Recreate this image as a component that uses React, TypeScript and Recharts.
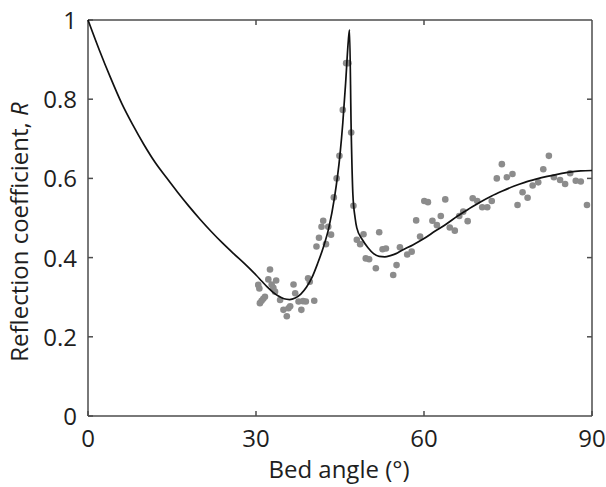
import { ComposedChart, Line, ReferenceLine, Scatter, XAxis, YAxis } from "recharts";

// ─── Model curve (bed angle in degrees, reflection coefficient) ─────────────
const curveAngle = [
  0, 2, 4, 6, 8, 10, 12, 14, 16, 18, 20, 22, 24, 26, 28, 30, 31, 32, 33, 34,
  35, 36, 37, 38, 39, 40, 41, 42, 43, 44, 45, 45.5, 46, 46.5, 46.7, 47, 47.3,
  47.7, 48, 49, 50, 51, 52, 53, 54, 55, 56, 58, 60, 62, 64, 66, 68, 70, 72,
  74, 76, 78, 80, 82, 84, 86, 88, 90,
];
const curveR = [
  1.0, 0.925, 0.855, 0.79, 0.735, 0.685, 0.64, 0.602, 0.565, 0.53, 0.497,
  0.466, 0.437, 0.41, 0.384, 0.356, 0.341, 0.326, 0.313, 0.303, 0.296, 0.294,
  0.298, 0.308, 0.325, 0.35, 0.385, 0.425, 0.475, 0.55, 0.66, 0.74, 0.84,
  0.95, 0.975, 0.72, 0.56, 0.5, 0.475, 0.445, 0.425, 0.41, 0.403, 0.402,
  0.405, 0.41, 0.418, 0.432, 0.448, 0.467, 0.485, 0.505, 0.523, 0.54, 0.555,
  0.568, 0.58, 0.59, 0.598, 0.605, 0.611, 0.616, 0.619, 0.62,
];

// ─── Measured points ────────────────────────────────────────────────────────
const obsAngle = [
  30.4, 30.6, 30.7, 31.0, 31.3, 31.6, 32.2, 32.5, 32.8, 33.1, 33.4, 33.6,
  34.3, 34.9, 35.5, 35.8, 36.1, 36.7, 37.0, 37.6, 38.1, 38.4, 38.9, 39.3,
  39.6, 40.4, 40.8, 41.25, 41.7, 42.0, 42.5, 42.9, 43.4, 43.9, 44.4, 44.9,
  45.5, 46.1, 46.5, 47.0, 47.4, 48.0, 48.6, 49.2, 49.6, 50.2, 51.4, 52.0,
  52.6, 53.2, 54.5, 55.1, 55.7, 57.0, 57.8, 58.6, 59.3, 60.05, 60.7, 61.5,
  62.3, 63.0, 63.8, 64.6, 65.5, 66.3, 67.0, 67.8, 68.7, 69.5, 70.4, 71.3,
  72.1, 73.0, 73.9, 74.8, 75.8, 76.7, 77.6, 78.5, 79.4, 80.4, 81.3, 82.3,
  83.2, 84.3, 85.2, 86.1, 87.1, 88.0, 89.1,
];
const obsR = [
  0.331, 0.322, 0.285, 0.291, 0.296, 0.301, 0.345, 0.37, 0.332, 0.324, 0.314,
  0.342, 0.293, 0.268, 0.252, 0.272, 0.277, 0.332, 0.31, 0.289, 0.268, 0.29,
  0.289, 0.348, 0.339, 0.291, 0.428, 0.45, 0.478, 0.493, 0.434, 0.478, 0.458,
  0.552, 0.6, 0.657, 0.773, 0.891, 0.891, 0.716, 0.531, 0.445, 0.434, 0.459,
  0.398, 0.396, 0.373, 0.464, 0.421, 0.423, 0.356, 0.381, 0.426, 0.408,
  0.415, 0.494, 0.453, 0.543, 0.54, 0.493, 0.482, 0.505, 0.547, 0.476, 0.468,
  0.505, 0.516, 0.492, 0.55, 0.543, 0.527, 0.527, 0.543, 0.6, 0.636, 0.603,
  0.611, 0.533, 0.565, 0.551, 0.582, 0.59, 0.623, 0.657, 0.603, 0.596, 0.586,
  0.613, 0.594, 0.592, 0.533,
];

const xTicks = [0, 30, 60, 90];
const yTicks = [0, 0.2, 0.4, 0.6, 0.8, 1];

const curve = curveAngle.map((x, i) => ({ x, y: curveR[i] }));
const points = obsAngle.map((x, i) => ({ x, y: obsR[i] }));

const FONT = "'Open Sans', 'DejaVu Sans', sans-serif";
const AXIS = "#4d4d4d";
const INK = "#1e1e1e";
const TICK_LEN = 5;
const W = 606;
const H = 487;
const MARGIN = { top: 20, right: 14, bottom: 0, left: 0 };

// ─── Tick renderers (MATLAB style: ticks point inward) ─────────────────────
function BottomTick({ x, y, payload }: any) {
  return (
    <g>
      <line x1={x} y1={y} x2={x} y2={y - TICK_LEN} stroke={AXIS} strokeWidth={1.5} />
      <text x={x} y={y + 31} textAnchor="middle" fill={INK} fontSize={24} fontFamily={FONT}>
        {payload.value}
      </text>
    </g>
  );
}

function LeftTick({ x, y, payload }: any) {
  return (
    <g>
      <line x1={x} y1={y} x2={x + TICK_LEN} y2={y} stroke={AXIS} strokeWidth={1.5} />
      <text x={x - 11} y={y + 9} textAnchor="end" fill={INK} fontSize={24} fontFamily={FONT}>
        {payload.value}
      </text>
    </g>
  );
}

// short inward tick hanging from the top edge of the box
function TopTickShape({ x1, y1, y2 }: any) {
  const top = Math.min(y1, y2);
  return <line x1={x1} y1={top} x2={x1} y2={top + TICK_LEN} stroke={AXIS} strokeWidth={1.5} />;
}

// short inward tick on the right edge of the box
function RightTickShape({ x1, x2, y1 }: any) {
  const right = Math.max(x1, x2);
  return <line x1={right} y1={y1} x2={right - TICK_LEN} y2={y1} stroke={AXIS} strokeWidth={1.5} />;
}

function Dot({ cx, cy }: any) {
  return <circle cx={cx} cy={cy} r={3.3} fill="#8c8c8c" />;
}

const layer: React.CSSProperties = { position: "absolute", left: 0, top: 0 };

export default function App() {
  return (
    <div style={{ position: "absolute", left: 0, top: 0, width: W, height: H, background: "#fff" }}>
      {/* axes, labels and measured points */}
      <div style={layer}>
        <ComposedChart width={W} height={H} margin={MARGIN}>
          <XAxis
            dataKey="x"
            type="number"
            domain={[0, 90]}
            ticks={xTicks}
            allowDataOverflow
            height={71}
            stroke={AXIS}
            strokeWidth={1.5}
            tickSize={0}
            tickMargin={0}
            tickLine={false}
            tick={<BottomTick />}
            label={{
              content: () => (
                <text x={339} y={478} textAnchor="middle" fill={INK} fontSize={24} fontFamily={FONT}>
                  Bed angle (°)
                </text>
              ),
            }}
          />
          <YAxis
            dataKey="y"
            type="number"
            domain={[0, 1]}
            ticks={yTicks}
            allowDataOverflow
            width={88}
            stroke={AXIS}
            strokeWidth={1.5}
            tickSize={0}
            tickMargin={0}
            tickLine={false}
            tick={<LeftTick />}
            label={{
              content: () => (
                <text
                  x={28}
                  y={232}
                  transform="rotate(-90 28 232)"
                  textAnchor="middle"
                  fill={INK}
                  fontSize={24}
                  fontFamily={FONT}
                >
                  Reflection coefficient, <tspan fontStyle="italic">R</tspan>
                </text>
              ),
            }}
          />
          <Scatter data={points} fill="#8c8c8c" shape={<Dot />} isAnimationActive={false} />
        </ComposedChart>
      </div>

      {/* box edges and model curve, same geometry, plain axes */}
      <div style={{ ...layer, pointerEvents: "none" }}>
        <ComposedChart width={W} height={H} margin={MARGIN}>
          <XAxis dataKey="x" type="number" domain={[0, 90]} height={71} tick={false} axisLine={false} tickLine={false} />
          <YAxis dataKey="y" type="number" domain={[0, 1]} width={88} tick={false} axisLine={false} tickLine={false} />
          <ReferenceLine y={1} stroke={AXIS} strokeWidth={1.5} />
          <ReferenceLine x={90} stroke={AXIS} strokeWidth={1.5} />
          <ReferenceLine x={30} stroke={AXIS} shape={<TopTickShape />} />
          <ReferenceLine x={60} stroke={AXIS} shape={<TopTickShape />} />
          <ReferenceLine y={0.2} stroke={AXIS} shape={<RightTickShape />} />
          <ReferenceLine y={0.4} stroke={AXIS} shape={<RightTickShape />} />
          <ReferenceLine y={0.6} stroke={AXIS} shape={<RightTickShape />} />
          <ReferenceLine y={0.8} stroke={AXIS} shape={<RightTickShape />} />
          <Line
            data={curve}
            dataKey="y"
            type="monotone"
            stroke="#111"
            strokeWidth={1.7}
            dot={false}
            isAnimationActive={false}
          />
        </ComposedChart>
      </div>
    </div>
  );
}
